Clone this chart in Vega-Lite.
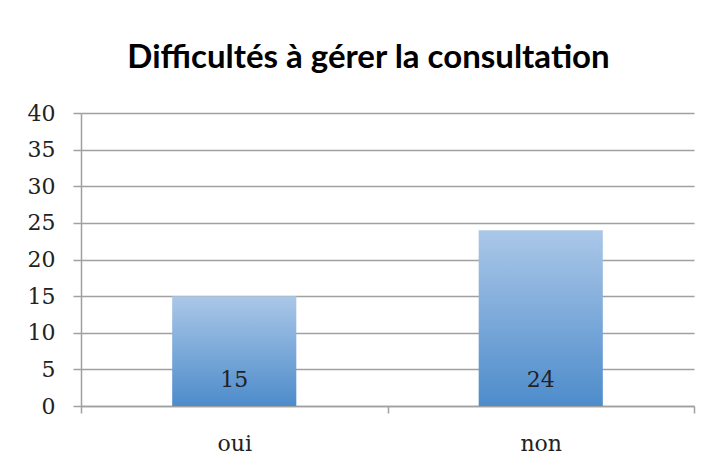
{
  "$schema": "https://vega.github.io/schema/vega-lite/v6.json",
  "autosize": {"type": "none"},
  "width": 613,
  "height": 293,
  "padding": {"left": 81, "top": 113, "right": 24, "bottom": 58},
  "background": "white",
  "title": {
    "text": "Difficultés à gérer la consultation",
    "font": "Lato",
    "fontSize": 33,
    "fontWeight": "bold",
    "color": "#000000",
    "anchor": "middle",
    "dx": -19,
    "offset": 27
  },
  "data": {
    "values": [
      {"reponse": "oui", "nombre": 15},
      {"reponse": "non", "nombre": 24}
    ]
  },
  "encoding": {
    "x": {
      "field": "reponse",
      "type": "nominal",
      "sort": ["oui", "non"],
      "scale": {"paddingInner": 0, "paddingOuter": 0},
      "axis": {
        "title": null,
        "labelAngle": 0,
        "labelPadding": 20,
        "tickBand": "extent",
        "tickSize": 7,
        "grid": false
      }
    }
  },
  "layer": [
    {
      "mark": {
        "type": "bar",
        "width": {"band": 0.405},
        "color": {
          "gradient": "linear",
          "x1": 0, "y1": 0, "x2": 0, "y2": 1,
          "stops": [
            {"offset": 0, "color": "#abc7e8"},
            {"offset": 1, "color": "#4d8ccb"}
          ]
        }
      },
      "encoding": {
        "y": {
          "field": "nombre",
          "type": "quantitative",
          "scale": {"domain": [0, 40], "nice": false},
          "axis": {
            "title": null,
            "values": [0, 5, 10, 15, 20, 25, 30, 35, 40],
            "labelOverlap": false,
            "labelPadding": 18,
            "tickSize": 8,
            "grid": true
          }
        }
      }
    },
    {
      "mark": {
        "type": "text",
        "font": "DejaVu Serif",
        "fontSize": 22,
        "color": "#222222",
        "baseline": "alphabetic",
        "dy": -19
      },
      "encoding": {
        "y": {"datum": 0, "type": "quantitative", "axis": null},
        "text": {"field": "nombre", "type": "quantitative"}
      }
    }
  ],
  "resolve": {"axis": {"y": "independent"}},
  "config": {
    "view": {"stroke": null},
    "axis": {
      "labelFont": "DejaVu Serif",
      "labelFontSize": 22,
      "labelColor": "#222222",
      "tickColor": "#a0a0a0",
      "tickWidth": 1.5,
      "domainColor": "#a0a0a0",
      "domainWidth": 1.5,
      "gridColor": "#a0a0a0",
      "gridWidth": 1.5
    }
  }
}
